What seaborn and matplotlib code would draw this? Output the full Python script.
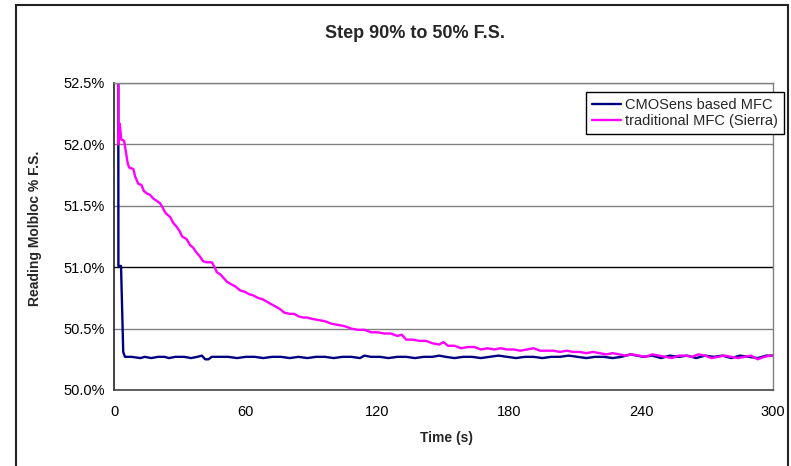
import matplotlib
matplotlib.use("Agg")
import matplotlib.pyplot as plt
from matplotlib.patches import Rectangle
from matplotlib.ticker import FuncFormatter
import seaborn as sns
import pandas as pd

# Traditional MFC (Sierra) readings, % F.S. vs time (s)
sierra_t = [1.9, 2.0, 2.6, 3.3, 4.6, 5.3, 6.3, 7.0, 8.8, 9.6, 11.0, 12.5, 13.6, 15.0,
            16.4, 17.8, 19.5, 21.0, 22.0, 23.5, 25.5, 27.0, 28.5, 30.0, 31.0, 33.0,
            34.6, 36.0, 37.5, 39.0, 40.5, 42.0, 44.5, 45.5, 46.8, 48.5, 50.0, 51.5,
            53.5, 55.5, 57.5, 59.5, 61.5, 63.5, 65.5, 67.5, 69.5, 71.5, 73.5, 75.5,
            77.5, 80.0, 82.0, 84.0, 86.0, 88.0, 90.0, 93, 96, 99, 102, 105, 108, 111,
            114, 117, 120, 123, 126, 129, 131, 133, 136, 139, 142, 145, 148, 150, 152,
            155, 158, 161, 164, 167, 170, 173, 176, 179, 182, 185, 188, 191, 194, 197,
            200, 203, 206, 209, 212, 215, 218, 221, 224, 227, 230, 233, 236, 239, 242,
            245, 248, 251, 254, 257, 260, 263, 266, 269, 272, 275, 278, 281, 284, 287,
            290, 293, 296, 299, 300]
sierra_v = [55.0, 52.00, 52.17, 52.04, 52.03, 51.95, 51.84, 51.81, 51.80, 51.74, 51.68,
            51.67, 51.62, 51.60, 51.59, 51.56, 51.54, 51.52, 51.49, 51.44, 51.41, 51.36,
            51.33, 51.29, 51.25, 51.23, 51.18, 51.16, 51.12, 51.09, 51.05, 51.04, 51.04,
            51.01, 50.96, 50.94, 50.91, 50.88, 50.86, 50.84, 50.81, 50.80, 50.78, 50.77,
            50.75, 50.74, 50.72, 50.70, 50.68, 50.66, 50.63, 50.62, 50.62, 50.60, 50.59,
            50.59, 50.58, 50.57, 50.56, 50.54, 50.53, 50.52, 50.50, 50.49, 50.49, 50.47,
            50.47, 50.46, 50.46, 50.44, 50.45, 50.41, 50.41, 50.40, 50.40, 50.38, 50.37,
            50.39, 50.36, 50.36, 50.34, 50.35, 50.35, 50.33, 50.34, 50.33, 50.34, 50.33,
            50.33, 50.32, 50.33, 50.34, 50.32, 50.32, 50.32, 50.31, 50.32, 50.31, 50.31,
            50.30, 50.31, 50.30, 50.29, 50.30, 50.29, 50.28, 50.29, 50.28, 50.27, 50.29,
            50.28, 50.27, 50.26, 50.28, 50.28, 50.27, 50.29, 50.28, 50.26, 50.27, 50.28,
            50.27, 50.26, 50.27, 50.28, 50.25, 50.27, 50.28, 50.28]

# CMOSens based MFC readings, % F.S. vs time (s)
cmos_t = [1.9, 2.0, 3.2, 4.2, 5.0, 8, 12, 14, 17, 20, 23, 25, 28, 32, 35, 38, 40, 41.5,
          43, 44.5, 48, 52, 56, 60, 64, 68, 72, 76, 80, 84, 88, 92, 96, 100, 104, 108,
          112, 114, 117, 121, 125, 129, 133, 137, 141, 145, 148, 151, 155, 159, 163,
          167, 171, 175, 179, 183, 187, 191, 195, 199, 203, 207, 211, 215, 219, 223,
          227, 231, 235, 238, 241, 245, 249, 253, 257, 261, 265, 269, 273, 277, 281,
          285, 289, 293, 297, 300]
cmos_v = [55.0, 51.01, 51.01, 50.31, 50.27, 50.27, 50.26, 50.27, 50.26, 50.27, 50.27,
          50.26, 50.27, 50.27, 50.26, 50.27, 50.28, 50.25, 50.25, 50.27, 50.27, 50.27,
          50.26, 50.27, 50.27, 50.26, 50.27, 50.27, 50.26, 50.27, 50.26, 50.27, 50.27,
          50.26, 50.27, 50.27, 50.26, 50.28, 50.27, 50.27, 50.26, 50.27, 50.27, 50.26,
          50.27, 50.27, 50.28, 50.27, 50.26, 50.27, 50.27, 50.26, 50.27, 50.28, 50.27,
          50.26, 50.27, 50.27, 50.26, 50.27, 50.27, 50.28, 50.27, 50.26, 50.27, 50.27,
          50.26, 50.27, 50.29, 50.28, 50.27, 50.28, 50.26, 50.28, 50.27, 50.28, 50.26,
          50.28, 50.27, 50.28, 50.26, 50.28, 50.27, 50.26, 50.28, 50.28]

series_names = ["CMOSens based MFC", "traditional MFC (Sierra)"]
series_colors = ["#000080", "#FF00FF"]
y_ticks = [50.0, 50.5, 51.0, 51.5, 52.0, 52.5]
x_ticks = [0, 60, 120, 180, 240, 300]

df = pd.concat([
    pd.DataFrame({"t": cmos_t, "v": cmos_v, "s": series_names[0]}),
    pd.DataFrame({"t": sierra_t, "v": sierra_v, "s": series_names[1]}),
], ignore_index=True)

sns.set_style("white")
plt.rcParams["font.family"] = ["Liberation Sans", "DejaVu Sans"]

W, H = 791, 466
fig = plt.figure(figsize=(W / 100, H / 100), dpi=100)
fig.patch.set_facecolor("white")

# plot area in pixel terms
px_l, px_r, px_t, px_b = 114, 773, 83, 390
ax = fig.add_axes([px_l / W, (H - px_b) / H, (px_r - px_l) / W, (px_b - px_t) / H])

sns.lineplot(data=df, x="t", y="v", hue="s", hue_order=series_names,
             palette=series_colors, sort=False, estimator=None, lw=1.7, ax=ax,
             legend=False)

ax.set_xlim(0, 300)
ax.set_ylim(50.0, 52.5)
ax.set_xticks(x_ticks)
ax.set_yticks(y_ticks)
ax.yaxis.set_major_formatter(FuncFormatter(lambda v, p: f"{v:.1f}%"))
ax.tick_params(axis="both", direction="inout", length=7, width=1, color="#333333",
               labelsize=10.5, labelcolor="black")
ax.tick_params(axis="x", pad=7)
ax.tick_params(axis="y", pad=3)

ax.yaxis.grid(True, color="#808080", lw=1)
ax.xaxis.grid(False)
ax.set_axisbelow(True)
for i, gl in enumerate(ax.get_ygridlines()):
    if y_ticks[i] == 51.0:
        gl.set_color("black")

for side in ("top", "right"):
    ax.spines[side].set_color("#808080")
    ax.spines[side].set_linewidth(1)
ax.spines["left"].set_color("#222222")
ax.spines["bottom"].set_color("#444444")
ax.spines["left"].set_linewidth(1.2)
ax.spines["bottom"].set_linewidth(1.2)

ax.set_xlabel("Time (s)", fontsize=10, fontweight="bold")
ax.set_ylabel("Reading Molbloc % F.S.", fontsize=10, fontweight="bold")
ax.xaxis.set_label_coords((446 - px_l) / (px_r - px_l), -(438 - px_b) / (px_b - px_t))
ax.yaxis.set_label_coords(-(114 - 35) / (px_r - px_l), (px_b - 228) / (px_b - px_t))
ax.xaxis.label.set_va("center")
ax.yaxis.label.set_va("center")

fig.text(415 / W, 1 - 33 / H, "Step 90% to 50% F.S.", ha="center", va="center",
         fontsize=13, fontweight="bold")

handles = [plt.Line2D([], [], color=c, lw=1.7) for c in series_colors]
leg = fig.legend(handles, series_names, loc="upper left",
                 bbox_to_anchor=(586 / W, 1 - 92 / H), fontsize=10.5,
                 frameon=True, fancybox=False, shadow=False, framealpha=1,
                 edgecolor="black", handlelength=2.0, handletextpad=0.3,
                 borderpad=0.4, labelspacing=0.15, borderaxespad=0)
leg.get_frame().set_linewidth(1)

# outer chart frame
fig.patches.append(Rectangle((16, -10), 772, H - 5 + 10, transform=None,
                             fill=False, edgecolor="#222222", lw=1.5))

fig.savefig("out.png", dpi=100)
